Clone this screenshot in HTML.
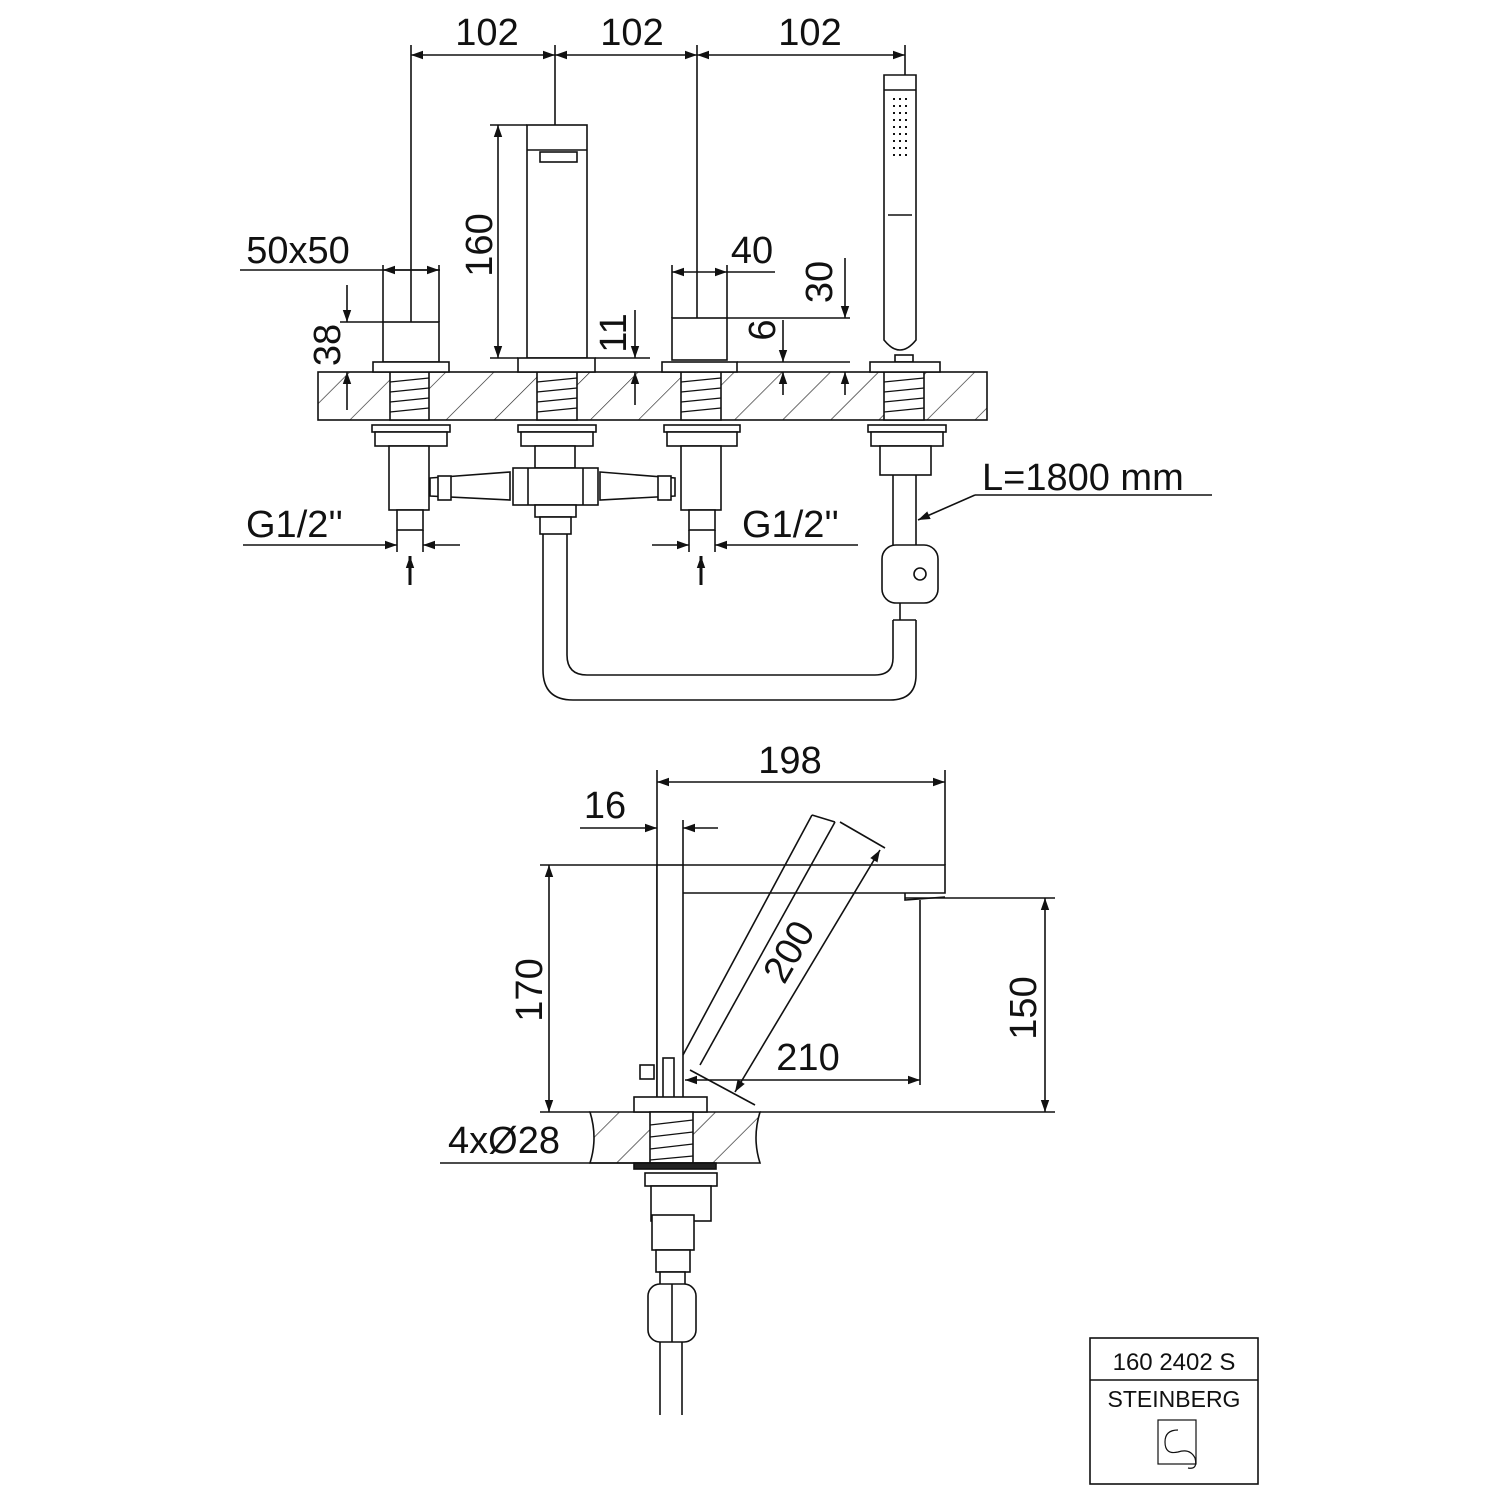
<!DOCTYPE html>
<html><head><meta charset="utf-8"><style>
html,body{margin:0;padding:0;background:#fff}
svg{display:block}
text{font-family:"Liberation Sans",sans-serif;fill:#111}
</style></head><body>
<svg width="1500" height="1500" viewBox="0 0 1500 1500" xmlns="http://www.w3.org/2000/svg">
<defs>
<pattern id="h" width="34" height="34" patternUnits="userSpaceOnUse" patternTransform="rotate(45)">
<line x1="0" y1="0" x2="0" y2="34" stroke="#222" stroke-width="1.3"/></pattern>
<marker id="a" viewBox="0 0 10 10" refX="10" refY="5" markerWidth="12" markerHeight="12" orient="auto-start-reverse" markerUnits="userSpaceOnUse"><path d="M0,1.5 L10,5 L0,8.5z" fill="#111"/></marker>
</defs>
<g stroke="#111" stroke-width="1.6" fill="none">
<line x1="411" y1="45" x2="411" y2="322"/><line x1="555" y1="45" x2="555" y2="125"/><line x1="697" y1="45" x2="697" y2="318"/><line x1="905" y1="45" x2="905" y2="75"/>
<line x1="411" y1="55" x2="555" y2="55" marker-start="url(#a)" marker-end="url(#a)"/>
<line x1="555" y1="55" x2="697" y2="55" marker-start="url(#a)" marker-end="url(#a)"/>
<line x1="697" y1="55" x2="905" y2="55" marker-start="url(#a)" marker-end="url(#a)"/>
<line x1="490" y1="125" x2="527" y2="125"/><line x1="498" y1="125" x2="498" y2="358" marker-start="url(#a)" marker-end="url(#a)"/><line x1="490" y1="358" x2="518" y2="358"/>
<line x1="240" y1="270" x2="440" y2="270"/><line x1="383" y1="265" x2="383" y2="322"/><line x1="439" y1="265" x2="439" y2="322"/>
<line x1="383" y1="270" x2="439" y2="270" marker-start="url(#a)" marker-end="url(#a)"/>
<line x1="340" y1="322" x2="383" y2="322"/><line x1="347" y1="285" x2="347" y2="322" marker-end="url(#a)"/><line x1="347" y1="372" x2="347" y2="410" marker-start="url(#a)"/>
<line x1="595" y1="358" x2="650" y2="358"/><line x1="635" y1="310" x2="635" y2="358" marker-end="url(#a)"/><line x1="635" y1="372" x2="635" y2="405" marker-start="url(#a)"/>
<line x1="672" y1="265" x2="672" y2="318"/><line x1="727" y1="265" x2="727" y2="318"/>
<line x1="672" y1="272" x2="727" y2="272" marker-start="url(#a)" marker-end="url(#a)"/><line x1="727" y1="272" x2="775" y2="272"/>
<line x1="727" y1="318" x2="850" y2="318"/><line x1="737" y1="362" x2="850" y2="362"/>
<line x1="783" y1="320" x2="783" y2="362" marker-end="url(#a)"/><line x1="783" y1="372" x2="783" y2="395" marker-start="url(#a)"/>
<line x1="845" y1="258" x2="845" y2="318" marker-end="url(#a)"/><line x1="845" y1="372" x2="845" y2="395" marker-start="url(#a)"/>
<rect x="318" y="372" width="669" height="48" fill="url(#h)"/>
<g fill="#fff"><rect x="390" y="372" width="39" height="48"/><rect x="537" y="372" width="40" height="48"/><rect x="681" y="372" width="40" height="48"/><rect x="884" y="372" width="40" height="48"/></g>
<g stroke-width="1.2">
<path d="M390,382 L429,378 M390,392 L429,388 M390,402 L429,398 M390,412 L429,408 M537,382 L577,378 M537,392 L577,388 M537,402 L577,398 M537,412 L577,408 M681,382 L721,378 M681,392 L721,388 M681,402 L721,398 M681,412 L721,408 M884,382 L924,378 M884,392 L924,388 M884,402 L924,398 M884,412 L924,408"/>
</g>
<rect x="383" y="322" width="56" height="40" fill="#fff"/><rect x="373" y="362" width="76" height="10" fill="#fff"/>
<rect x="527" y="125" width="60" height="233" fill="#fff"/><line x1="527" y1="150" x2="587" y2="150"/><rect x="540" y="152" width="37" height="10"/>
<rect x="518" y="358" width="77" height="14" fill="#fff"/>
<rect x="672" y="318" width="55" height="42" fill="#fff"/><rect x="662" y="362" width="75" height="10" fill="#fff"/>
<path d="M884,75 L916,75 L916,340 Q900,360 884,340 Z" fill="#fff"/><line x1="884" y1="90" x2="916" y2="90"/><line x1="888" y1="215" x2="912" y2="215"/>
<rect x="895" y="355" width="18" height="7"/><rect x="870" y="362" width="70" height="10" fill="#fff"/>
<g stroke-width="2" stroke-dasharray="2 5"><line x1="894" y1="98" x2="894" y2="160"/><line x1="900" y1="98" x2="900" y2="160"/><line x1="906" y1="98" x2="906" y2="160"/></g>
<g fill="#fff">
<rect x="372" y="425" width="78" height="7"/><rect x="375" y="432" width="72" height="14"/>
<rect x="518" y="425" width="78" height="7"/><rect x="521" y="432" width="72" height="14"/>
<rect x="664" y="425" width="76" height="7"/><rect x="667" y="432" width="70" height="14"/>
<rect x="868" y="425" width="78" height="7"/><rect x="871" y="432" width="72" height="14"/>
<rect x="389" y="446" width="40" height="64"/><rect x="397" y="510" width="26" height="20"/>
<rect x="681" y="446" width="40" height="64"/><rect x="689" y="510" width="26" height="20"/>
<rect x="535" y="446" width="40" height="22"/>
<rect x="880" y="446" width="51" height="29"/>
<path d="M430,478 L510,472 L510,500 L430,496 Z"/><path d="M600,472 L675,478 L675,496 L600,500 Z"/>
<rect x="438" y="476" width="13" height="24"/><rect x="658" y="476" width="13" height="24"/>
<rect x="513" y="468" width="85" height="37"/><line x1="528" y1="468" x2="528" y2="505"/><line x1="583" y1="468" x2="583" y2="505"/>
<rect x="535" y="505" width="41" height="12"/><rect x="540" y="517" width="31" height="17"/>
</g>
<path d="M543,534 L543,670 Q543,700 573,700 L890,700 Q916,700 916,675 L916,620"/>
<path d="M567,534 L567,655 Q567,675 587,675 L875,675 Q893,675 893,658 L893,620"/>
<line x1="893" y1="475" x2="893" y2="545"/><line x1="916" y1="475" x2="916" y2="545"/>
<rect x="882" y="545" width="56" height="58" rx="14" fill="#fff"/><circle cx="920" cy="574" r="6"/>
<line x1="900" y1="603" x2="900" y2="620"/><line x1="893" y1="620" x2="916" y2="620"/>
<line x1="975" y1="495" x2="918" y2="520" marker-end="url(#a)"/><line x1="975" y1="495" x2="1212" y2="495"/>
<line x1="243" y1="545" x2="397" y2="545" marker-end="url(#a)"/><line x1="423" y1="545" x2="460" y2="545" marker-start="url(#a)"/>
<line x1="397" y1="530" x2="397" y2="552"/><line x1="423" y1="530" x2="423" y2="552"/>
<line x1="652" y1="545" x2="689" y2="545" marker-end="url(#a)"/><line x1="715" y1="545" x2="858" y2="545" marker-start="url(#a)"/>
<line x1="689" y1="530" x2="689" y2="552"/><line x1="715" y1="530" x2="715" y2="552"/>
<line x1="410" y1="585" x2="410" y2="556" stroke-width="3" marker-end="url(#a)"/><line x1="701" y1="585" x2="701" y2="556" stroke-width="3" marker-end="url(#a)"/>

<line x1="657" y1="770" x2="657" y2="1100"/><line x1="945" y1="770" x2="945" y2="865"/>
<line x1="657" y1="782" x2="945" y2="782" marker-start="url(#a)" marker-end="url(#a)"/>
<line x1="683" y1="820" x2="683" y2="865"/>
<line x1="580" y1="828" x2="657" y2="828" marker-end="url(#a)"/><line x1="683" y1="828" x2="718" y2="828" marker-start="url(#a)"/>
<rect x="657" y="865" width="26" height="235" fill="#fff"/>
<path d="M683,865 L945,865 L945,893 L683,893"/><path d="M905,893 L905,900 L945,897"/>
<line x1="683" y1="1055" x2="812" y2="815"/><line x1="700" y1="1065" x2="835" y2="822"/><line x1="812" y1="815" x2="835" y2="822"/>
<line x1="840" y1="822" x2="885" y2="848"/><line x1="735" y1="1092" x2="880" y2="850" marker-start="url(#a)" marker-end="url(#a)"/>
<line x1="690" y1="1070" x2="755" y2="1105"/>
<line x1="685" y1="1080" x2="920" y2="1080" marker-start="url(#a)" marker-end="url(#a)"/><line x1="920" y1="900" x2="920" y2="1085"/>
<line x1="540" y1="865" x2="657" y2="865"/><line x1="549" y1="865" x2="549" y2="1112" marker-start="url(#a)" marker-end="url(#a)"/>
<line x1="905" y1="898" x2="1055" y2="898"/><line x1="1045" y1="898" x2="1045" y2="1112" marker-start="url(#a)" marker-end="url(#a)"/>
<line x1="540" y1="1112" x2="590" y2="1112"/><line x1="760" y1="1112" x2="1055" y2="1112"/>
<rect x="640" y="1065" width="14" height="14" fill="#fff"/><rect x="663" y="1058" width="11" height="55" fill="#fff"/>
<path d="M590,1112 L760,1112 Q752,1138 760,1163 L590,1163 Q598,1138 590,1112 Z" fill="url(#h)"/>
<rect x="634" y="1097" width="73" height="15" fill="#fff"/>
<rect x="650" y="1112" width="43" height="51" fill="#fff"/>
<path d="M650,1125 L693,1120 M650,1137 L693,1132 M650,1149 L693,1144 M650,1160 L693,1156" stroke-width="1.2"/>
<line x1="440" y1="1163" x2="715" y2="1163"/>
<rect x="634" y="1163" width="82" height="6" fill="#222"/>
<g fill="#fff">
<rect x="645" y="1173" width="72" height="13"/><rect x="651" y="1186" width="60" height="35"/>
<rect x="652" y="1215" width="42" height="35"/><rect x="656" y="1250" width="34" height="22"/><rect x="660" y="1272" width="25" height="16"/>
<rect x="648" y="1284" width="48" height="58" rx="12"/>
</g>
<line x1="672" y1="1284" x2="672" y2="1342"/><line x1="660" y1="1342" x2="660" y2="1415"/><line x1="682" y1="1342" x2="682" y2="1415"/>
<rect x="1090" y="1338" width="168" height="146"/><line x1="1090" y1="1380" x2="1258" y2="1380"/>
<rect x="1158" y="1420" width="38" height="44" stroke-width="1.2"/>
<path d="M1178,1430 Q1165,1430 1165,1442 Q1165,1455 1178,1452 Q1190,1448 1195,1458 Q1198,1470 1188,1468" stroke-width="1.2"/>
</g>
<g font-size="38">
<text x="487" y="45" text-anchor="middle">102</text>
<text x="632" y="45" text-anchor="middle">102</text>
<text x="810" y="45" text-anchor="middle">102</text>
<text x="298" y="263" text-anchor="middle">50x50</text>
<text x="752" y="263" text-anchor="middle">40</text>
<text x="246" y="537">G1/2''</text>
<text x="742" y="537">G1/2''</text>
<text x="982" y="490">L=1800 mm</text>
<text x="790" y="773" text-anchor="middle">198</text>
<text x="605" y="818" text-anchor="middle">16</text>
<text x="808" y="1070" text-anchor="middle">210</text>
<text x="448" y="1153">4xØ28</text>
<text transform="translate(492,245) rotate(-90)" text-anchor="middle">160</text>
<text transform="translate(340,345) rotate(-90)" text-anchor="middle">38</text>
<text transform="translate(626,333) rotate(-90)" text-anchor="middle">11</text>
<text transform="translate(775,330) rotate(-90)" text-anchor="middle">6</text>
<text transform="translate(832,282) rotate(-90)" text-anchor="middle">30</text>
<text transform="translate(542,990) rotate(-90)" text-anchor="middle">170</text>
<text transform="translate(1036,1008) rotate(-90)" text-anchor="middle">150</text>
<text transform="translate(800,958) rotate(-60)" text-anchor="middle">200</text>
</g>
<text x="1174" y="1370" font-size="24" text-anchor="middle">160 2402 S</text>
<text x="1174" y="1407" font-size="23" text-anchor="middle" fill="#444">STEINBERG</text>
</svg>
</body></html>
